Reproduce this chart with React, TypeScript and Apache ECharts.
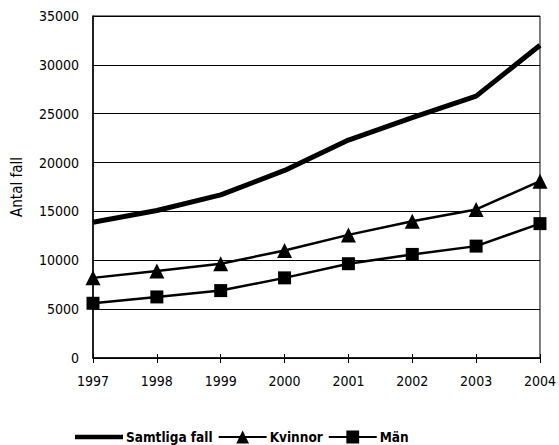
import React, { useEffect, useRef } from "react";
import * as echarts from "echarts";

const years = ["1997", "1998", "1999", "2000", "2001", "2002", "2003", "2004"];
const samtliga = [13900, 15100, 16700, 19200, 22300, 24600, 26800, 32000];
const kvinnor = [8200, 8900, 9650, 11000, 12600, 14000, 15200, 18100];
const man = [5600, 6250, 6900, 8200, 9650, 10600, 11450, 13750];
const yTicks = [0, 5000, 10000, 15000, 20000, 25000, 30000, 35000];

const FONT = "'Liberation Sans Narrow', 'DejaVu Sans Condensed', 'Arial Narrow', sans-serif";

const GRID = { left: 93, right: 18, top: 16, bottom: 87 };
const PLOT_H = 445 - GRID.top - GRID.bottom;

export default function App() {
  const ref = useRef<HTMLDivElement>(null);

  useEffect(() => {
    if (!ref.current) return;
    const chart = echarts.init(ref.current, undefined, { renderer: "svg" });
    chart.setOption({
      animation: false,
      backgroundColor: "#fff",
      textStyle: { fontFamily: FONT },
      grid: {
        ...GRID,
        show: true,
        borderColor: "#000",
        borderWidth: 1,
        containLabel: false,
      },
      legend: {
        left: 70,
        top: 424,
        itemWidth: 48,
        itemHeight: 16,
        itemGap: 5,
        textStyle: {
          fontFamily: FONT,
          fontSize: 13.5,
          lineHeight: 16,
          fontWeight: "bold",
          color: "#000",
          padding: [0, 0, 0, -2],
        },
        data: [
          { name: "Samtliga fall", icon: "path://M0 0H52V5H0Z" },
          { name: "Kvinnor" },
          { name: "Män" },
        ],
      },
      xAxis: [
        {
          type: "category",
          data: years,
          boundaryGap: false,
          axisLine: { lineStyle: { color: "#000", width: 1.5 } },
          axisTick: { show: true, length: 5, lineStyle: { color: "#000", width: 1 } },
          axisLabel: { color: "#000", fontSize: 14, fontFamily: FONT, margin: 16 },
          splitLine: { show: false },
        },
        {
          // tick marks reaching up into the plot from the bottom axis
          type: "category",
          data: years,
          boundaryGap: false,
          position: "top",
          offset: -PLOT_H,
          axisLine: { show: false },
          axisTick: { show: true, length: 4, lineStyle: { color: "#000", width: 1 } },
          axisLabel: { show: false },
          splitLine: { show: false },
        },
      ],
      yAxis: {
        type: "value",
        min: yTicks[0],
        max: yTicks[yTicks.length - 1],
        interval: yTicks[1] - yTicks[0],
        name: "Antal fall",
        nameLocation: "middle",
        nameGap: 69,
        nameTextStyle: { color: "#000", fontSize: 15, fontFamily: FONT },
        axisLine: { show: true, lineStyle: { color: "#000", width: 1.5 } },
        axisTick: { show: false },
        axisLabel: {
          color: "#000",
          fontSize: 14,
          fontFamily: FONT,
          margin: 14,
          formatter: (v: number) => String(v),
        },
        splitLine: { show: true, lineStyle: { color: "#000", width: 1 } },
      },
      series: [
        {
          name: "Samtliga fall",
          type: "line",
          data: samtliga,
          symbol: "none",
          lineStyle: { color: "#000", width: 5 },
          itemStyle: { color: "#000" },
        },
        {
          name: "Kvinnor",
          type: "line",
          data: kvinnor,
          symbol: "triangle",
          symbolSize: 15,
          lineStyle: { color: "#000", width: 2.5 },
          itemStyle: { color: "#000" },
        },
        {
          name: "Män",
          type: "line",
          data: man,
          symbol: "rect",
          symbolSize: 13,
          lineStyle: { color: "#000", width: 2.5 },
          itemStyle: { color: "#000" },
        },
      ],
    });
    return () => chart.dispose();
  }, []);

  return (
    <div
      ref={ref}
      style={{ position: "absolute", left: 0, top: 0, width: 559, height: 445 }}
    />
  );
}
